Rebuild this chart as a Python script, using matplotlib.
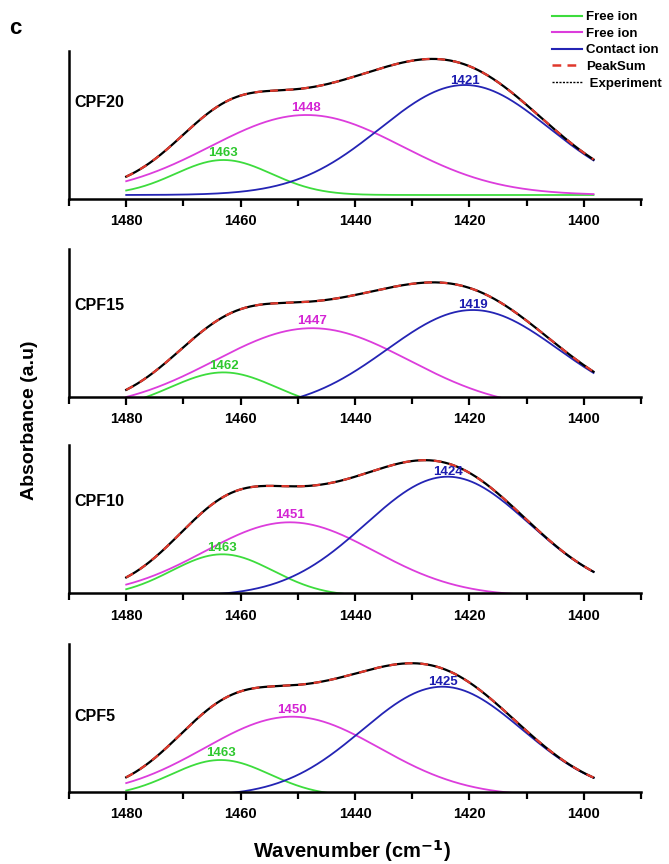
import numpy as np
import matplotlib
matplotlib.use("Agg")
import matplotlib.pyplot as plt
from matplotlib.lines import Line2D

plt.rcParams['font.family'] = ['Liberation Sans', 'DejaVu Sans']
plt.rcParams['font.weight'] = 'bold'

# ---- data (Gaussian peak-fit components) ----
samples = ["CPF20", "CPF15", "CPF10", "CPF5"]
green_label = ["1463", "1462", "1463", "1463"]
magenta_label = ["1448", "1447", "1451", "1450"]
blue_label = ["1421", "1419", "1424", "1425"]

green_center = [1463.0, 1463.0, 1463.2, 1463.5]
green_height = [35.0, 37.8, 42.0, 36.3]
green_width = [8.4, 9.3, 8.9, 8.6]

magenta_center = [1448.5, 1447.5, 1451.4, 1451.0]
magenta_height = [80.0, 82.0, 74.0, 79.6]
magenta_width = [16.8, 17.0, 14.9, 15.3]

blue_center = [1420.8, 1419.4, 1423.8, 1424.7]
blue_height = [110.0, 100.2, 119.6, 109.6]
blue_width = [14.8, 15.0, 14.3, 14.0]

baseline = [4.0, -13.5, -3.0, -4.6]

wn_start, wn_end = 1480.0, 1398.3
xticks = [1480, 1460, 1440, 1420, 1400]

C_GREEN = "#3ddc3d"
C_MAG = "#dc3ddc"
C_BLUE = "#2424b4"
C_RED = "#e0382c"
C_GREEN_T = "#2ec82e"
C_MAG_T = "#d424d4"
C_BLUE_T = "#1c1cb0"

fig = plt.figure(figsize=(6.69, 8.64), dpi=100)

left, width, height = 69 / 669, (641 - 69) / 669, 148 / 864
bottoms_px = [199, 396.7, 593.3, 791.7]
label_y = [0.65, 0.615, 0.62, 0.51]

x = np.linspace(wn_start, wn_end, 600)


def gauss(xx, c, a, s):
    return a * np.exp(-(xx - c) ** 2 / (2 * s ** 2))


for i, name in enumerate(samples):
    ax = fig.add_axes([left, 1 - bottoms_px[i] / 864, width, height])
    b = baseline[i]
    g = gauss(x, green_center[i], green_height[i], green_width[i])
    m = gauss(x, magenta_center[i], magenta_height[i], magenta_width[i])
    bl = gauss(x, blue_center[i], blue_height[i], blue_width[i])
    total = b + g + m + bl
    ax.plot(x, b + g, color=C_GREEN, lw=1.3)
    ax.plot(x, b + m, color=C_MAG, lw=1.3)
    ax.plot(x, b + bl, color=C_BLUE, lw=1.3)
    ax.plot(x, total, color="black", lw=1.6)
    ax.plot(x, total, color=C_RED, lw=1.6, dashes=(3.5, 3.5))

    ax.text(green_center[i], b + green_height[i] + 0.5, green_label[i], color=C_GREEN_T,
            ha="center", va="bottom", fontsize=9.5, fontweight="bold")
    ax.text(magenta_center[i], b + magenta_height[i] + 1.0, magenta_label[i], color=C_MAG_T,
            ha="center", va="bottom", fontsize=9.5, fontweight="bold")
    ax.text(blue_center[i], b + blue_height[i] - 1.5, blue_label[i], color=C_BLUE_T,
            ha="center", va="bottom", fontsize=9.5, fontweight="bold")

    ax.text(0.01, label_y[i], name, transform=ax.transAxes, fontsize=11.5,
            fontweight="bold", ha="left", va="center")

    ax.set_xlim(1490, 1390)
    ax.set_ylim(0, 148)
    ax.set_xticks(xticks)
    ax.set_xticks([1490, 1470, 1450, 1430, 1410, 1390], minor=True)
    ax.set_xticklabels([str(t) for t in xticks], fontsize=10.5, fontweight="bold")
    ax.set_yticks([])
    for sp in ["top", "right"]:
        ax.spines[sp].set_visible(False)
    ax.spines["left"].set_linewidth(1.8)
    ax.spines["bottom"].set_linewidth(1.8)
    ax.tick_params(axis="x", which="major", direction="out", length=6, width=1.6, pad=5)
    ax.tick_params(axis="x", which="minor", direction="out", length=5, width=1.6)

fig.text(352 / 669, 1 - 851 / 864, "Wavenumber (cm$^{\\mathbf{-1}}$)", ha="center",
         va="center", fontsize=14.5, fontweight="bold")
fig.text(30 / 669, 1 - 420 / 864, "Absorbance (a.u)", ha="center", va="center",
         rotation=90, fontsize=14, fontweight="bold")
fig.text(15 / 669, 1 - 28 / 864, "c", ha="center", va="center", fontsize=16,
         fontweight="bold")

handles = [
    Line2D([], [], color=C_GREEN, lw=1.5),
    Line2D([], [], color=C_MAG, lw=1.5),
    Line2D([], [], color=C_BLUE, lw=1.5),
    Line2D([], [], color=C_RED, lw=1.8, dashes=(3.5, 2.5)),
    Line2D([], [], color="black", lw=1.0, dashes=(1.5, 1.0)),
]
labels = ["Free ion", "Free ion", "Contact ion", "PeakSum", " Experiment"]
fig.legend(handles, labels, loc="upper right", bbox_to_anchor=(1.003, 0.998),
           frameon=False, handlelength=2.3, handletextpad=0.3,
           labelspacing=0.33, borderaxespad=0.3, prop={"weight": "bold", "size": 9.5})

fig.savefig("out.png", dpi=100)
